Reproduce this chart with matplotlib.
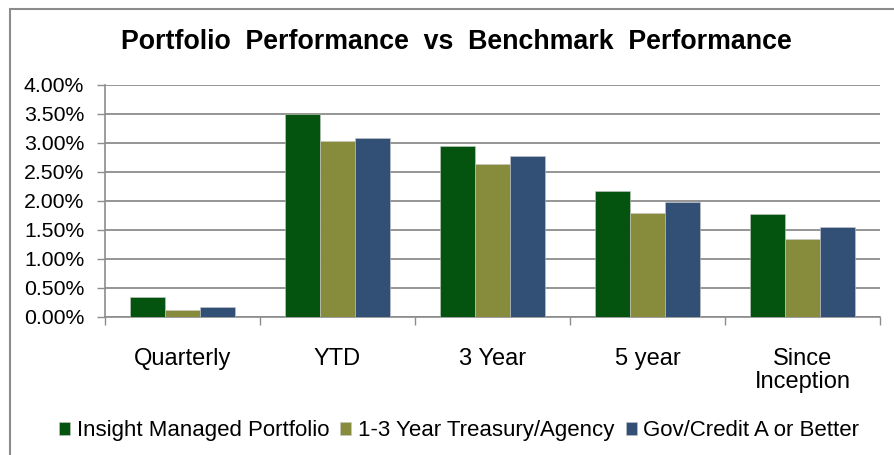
import matplotlib.pyplot as plt
import numpy as np
from matplotlib.patches import Rectangle

categories = ["Quarterly", "YTD", "3 Year", "5 year", "Since\nInception"]
series_names = ["Insight Managed Portfolio", "1-3 Year Treasury/Agency", "Gov/Credit A or Better"]
portfolio = [0.35, 3.50, 2.95, 2.18, 1.78]
treasury = [0.12, 3.03, 2.63, 1.80, 1.34]
govcredit = [0.18, 3.09, 2.78, 1.98, 1.55]
colors = ["#04540f", "#868c3c", "#324f75"]

plt.rcParams["font.family"] = ["Liberation Sans", "DejaVu Sans"]

fig = plt.figure(figsize=(8.95, 4.55), dpi=100)
ax = fig.add_axes([0.1173, 0.3033, 0.8659, 0.5099])

# chart border (only left and top edges visible in the crop)
fig.patches.append(Rectangle((10 / 895, -0.2), 1.2, 1.2 - 9 / 455, transform=fig.transFigure,
                             fill=False, edgecolor="#8c8c8c", linewidth=1.5))

x = np.arange(len(categories))
w = 0.226
for i, vals in enumerate([portfolio, treasury, govcredit]):
    ax.bar(x + (i - 1) * w, vals, w, color=colors[i], edgecolor="#c8c8c8",
           linewidth=0.4, label=series_names[i], zorder=3)

ax.set_xlim(-0.5, len(categories) - 0.5)
ax.set_ylim(0, 4.0)
ax.set_yticks(np.arange(0, 4.01, 0.5))
ax.set_yticklabels([f"{v:.2f}%" for v in np.arange(0, 4.01, 0.5)], fontsize=15.3)
ax.yaxis.grid(True, color="#8c8c8c", linewidth=1.3, zorder=0)

ax.set_xticks(np.arange(-0.5, len(categories), 1.0))
ax.set_xticklabels([])
ax.set_xticks(x, minor=True)
ax.set_xticklabels(categories, minor=True, fontsize=17, linespacing=1.1)
ax.tick_params(axis="x", which="minor", length=0, pad=22)
ax.tick_params(axis="x", which="major", length=6, color="#8c8c8c", width=1)
ax.tick_params(axis="y", length=6, color="#8c8c8c", width=1, pad=9)

for s in ["top", "right"]:
    ax.spines[s].set_visible(False)
for s in ["left", "bottom"]:
    ax.spines[s].set_color("#8c8c8c")
    ax.spines[s].set_linewidth(1.2)

fig.text(0.5095, 0.907, "Portfolio  Performance  vs  Benchmark  Performance",
         ha="center", va="center", fontsize=19.3, fontweight="bold")

fig.legend(loc="center", bbox_to_anchor=(0.513, 0.053), ncol=3, frameon=False,
           handlelength=0.5, handleheight=0.5, handletextpad=0.3, columnspacing=0.5,
           prop={"size": 16})

fig.savefig("out.png", dpi=100)
